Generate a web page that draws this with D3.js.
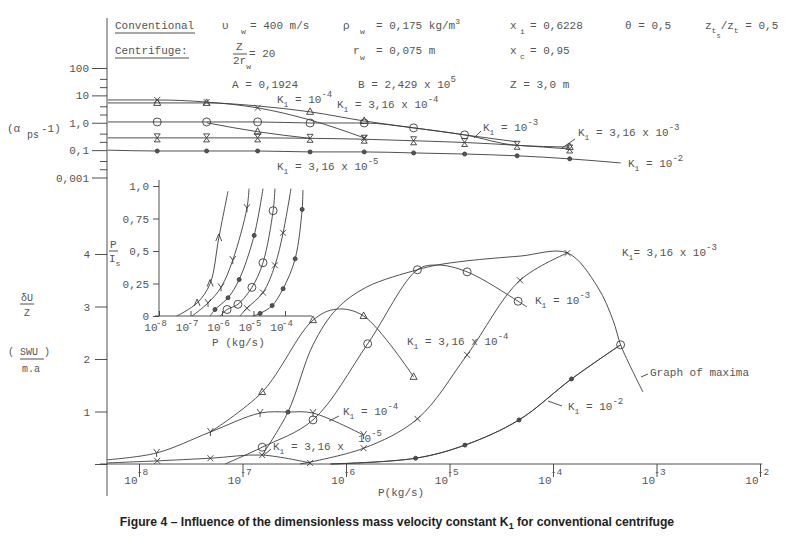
<!DOCTYPE html>
<html>
<head>
<meta charset="utf-8">
<script src="https://cdn.jsdelivr.net/npm/d3@7"></script>
<style>
  body { margin: 0; background: #fff; }
  .tw { font-family: "Liberation Mono", "DejaVu Sans Mono", monospace; font-size: 11px; fill: #555; white-space: pre; }
  .cap { font-family: "Liberation Sans", Arial, sans-serif; font-weight: bold; font-size: 12.2px; fill: #222; white-space: pre; }
</style>
</head>
<body>
<svg id="chart"></svg>
<script>
// ---- data ----
// x values are P in kg/s, pairs are [P, value]

// top panel: (alpha_ps - 1), log axis
var topTicks = [100, 10, 1, 0.1, 0.01];
var topTickLabels = ["100", "10", "1,0", "0,1", "0,001"];
var topMinor = [40, 20, 4, 2, 0.4, 0.2, 0.04, 0.02];

var topK316e5 = [[5e-9, 0.10], [1.5e-8, 0.093], [4.5e-8, 0.093], [1.4e-7, 0.093], [4.5e-7, 0.086], [1.5e-6, 0.086], [4.5e-6, 0.079], [1.4e-5, 0.072], [4.5e-5, 0.062], [1.45e-4, 0.048], [4.5e-4, 0.034]];
var topLow = [[5e-9, 0.28], [1.5e-8, 0.28], [4.5e-8, 0.28], [1.4e-7, 0.28], [4.5e-7, 0.27], [1.5e-6, 0.25], [4.5e-6, 0.22], [1.4e-5, 0.19], [4.5e-5, 0.15], [1.45e-4, 0.11]];
var topK1e3 = [[5e-9, 1.07], [1.5e-8, 1.07], [4.5e-8, 1.07], [1.4e-7, 1.07], [4.5e-7, 0.98], [1.5e-6, 0.98], [4.5e-6, 0.65], [1.4e-5, 0.36], [4.5e-5, 0.20]];
var topDrop = [[4.5e-8, 1.0], [1.4e-7, 0.47], [4.5e-7, 0.27]];
var topK1e4 = [[5e-9, 6.8], [1.5e-8, 6.8], [4.5e-8, 5.7], [1.4e-7, 3.5], [4.5e-7, 1.26], [1.5e-6, 0.28]];
var topK316e4 = [[5e-9, 5.3], [1.5e-8, 5.3], [4.5e-8, 5.3], [1.4e-7, 4.1], [4.5e-7, 2.5], [1.5e-6, 1.16], [4.5e-6, 0.65], [1.4e-5, 0.36], [4.5e-5, 0.15], [1.45e-4, 0.13]];

// main panel: deltaU/Z (SWU/m.a)
var mainYTicks = [0, 1, 2, 3, 4];
var mainYLabels = ["", "1", "2", "3", "4"];
var decades = [1e-8, 1e-7, 1e-6, 1e-5, 1e-4, 1e-3, 1e-2];
var decadeExp = ["-8", "-7", "-6", "-5", "-4", "-3", "-2"];

var mK316e5 = [[4.9e-9, 0.02], [1.5e-8, 0.06], [4.9e-8, 0.11], [1.55e-7, 0.17], [4.5e-7, 0.02]];
var mK1e4 = [[4.9e-9, 0.08], [1.48e-8, 0.21], [4.9e-8, 0.61], [1.48e-7, 0.97], [2.75e-7, 0.99], [4.8e-7, 0.97], [1.48e-6, 0.55]];
var mK316e4 = [[4.9e-8, 0.61], [1.55e-7, 1.37], [4.8e-7, 2.74], [8.1e-7, 2.95], [1.48e-6, 2.82], [4.5e-6, 1.66]];
var mK1e3 = [[6.8e-8, 0], [1.55e-7, 0.32], [4.8e-7, 0.84], [1.62e-6, 2.29], [4.9e-6, 3.70], [7.6e-6, 3.79], [1.48e-5, 3.66], [4.6e-5, 3.10], [5.6e-5, 2.99]];
var mK316e3 = [[3.6e-7, 0], [1.48e-6, 0.30], [4.9e-6, 0.86], [1.48e-5, 2.08], [4.8e-5, 3.50], [1.38e-4, 4.02]];
var mK1e2 = [[7.1e-7, 0], [4.7e-6, 0.11], [1.41e-5, 0.36], [4.7e-5, 0.84], [1.51e-4, 1.62], [4.5e-4, 2.27]];
var mMaxima = [[1.55e-7, 0.17], [2.75e-7, 0.99], [4.8e-7, 2.27], [8.1e-7, 2.95], [1.58e-6, 3.37], [4.9e-6, 3.70], [7.6e-6, 3.79], [1.48e-5, 3.87], [4.8e-5, 3.96], [1.38e-4, 4.02], [2.7e-4, 3.37], [3.8e-4, 2.74], [4.5e-4, 2.27], [5.4e-4, 1.92], [7.4e-4, 1.37]];

// inset: P/Is
var inDecades = [1e-8, 1e-7, 1e-6, 1e-5, 1e-4];
var inDecadeExp = ["-8", "-7", "-6", "-5", "-4"];
var inYTicks = [0, 0.25, 0.5, 0.75, 1];
var inYLabels = ["0", "0,25", "0,5", "0,75", "1,0"];
var in1 = [[3.7e-8, 0], [1.62e-7, 0.10], [4.2e-7, 0.25], [7.9e-7, 0.60], [1.55e-6, 0.96]];
var in2 = [[1.12e-7, 0], [3.6e-7, 0.10], [9.3e-7, 0.22], [2.2e-6, 0.43], [6.2e-6, 0.83], [7.2e-6, 0.98]];
var in3 = [[4.2e-7, 0], [6.0e-7, 0.05], [1.55e-6, 0.14], [3.5e-6, 0.28], [1.05e-5, 0.62], [2.0e-5, 0.98]];
var in4 = [[8.7e-7, 0], [1.45e-6, 0.05], [3.2e-6, 0.09], [8.9e-6, 0.22], [2.0e-5, 0.41], [4.2e-5, 0.81], [4.8e-5, 0.98]];
var in5 = [[3.7e-6, 0], [6.2e-6, 0.06], [2.0e-5, 0.18], [4.8e-5, 0.39], [8.7e-5, 0.64], [1.55e-4, 0.98]];
var in6 = [[9.5e-6, 0], [1.62e-5, 0.02], [3.9e-5, 0.08], [8.7e-5, 0.21], [2.1e-4, 0.44], [3.5e-4, 0.82], [3.7e-4, 0.97]];

// ---- drawing ----
var width = 794, height = 537;
var ink = "#3c3c3c";

var svg = d3.select("#chart")
    .attr("width", width)
    .attr("height", height);

svg.append("rect").attr("width", width).attr("height", height).attr("fill", "#fff");

var x = d3.scaleLog().domain([1e-8, 1e-2]).range([139, 760]);
var yTop = d3.scaleLog().domain([0.01, 100]).range([177.5, 68]);
var y = d3.scaleLinear().domain([0, 4]).range([464, 254]);
var xIn = d3.scaleLog().domain([1e-8, 1e-4]).range([159, 285]);
var yIn = d3.scaleLinear().domain([0, 1]).range([316, 186]);

// text with sub/superscripts: parts = [text, shift, size, absX]
function rich(px, py, parts, cls) {
    var t = svg.append("text").attr("class", cls || "tw").attr("x", px).attr("y", py);
    var cur = 0;
    parts.forEach(function (p) {
        var s = p[1] || 0;
        var ts = t.append("tspan").attr("dy", s - cur).text(p[0]);
        if (p[2]) ts.style("font-size", p[2] + "px");
        if (p[3] != null) ts.attr("x", p[3]);
        cur = s;
    });
    return t;
}
function kLabel(px, py, mid, exp) {
    return rich(px, py, [["K"], ["1", 4, 8], [mid, 0], [exp, -6, 9]]);
}
function seg(x1, y1, x2, y2) {
    svg.append("line").attr("x1", x1).attr("y1", y1).attr("x2", x2).attr("y2", y2)
        .attr("stroke", ink).attr("stroke-width", 0.9);
}
function styleAxis(g) {
    g.select(".domain").remove();
    g.selectAll("line").attr("stroke", ink).attr("stroke-width", 0.9);
    g.selectAll("text").attr("class", "tw").attr("font-family", null).attr("font-size", null);
}

// marker shapes
var shapes = {
    x: "M-3,-3L3,3M-3,3L3,-3",
    y: "M-3,-4L0,0L3,-4M0,0V4",
    tri: "M0,-4L3.5,2.5H-3.5Z",
    hg: "M-3,-4H3L-3,4H3Z",
    lam: "M-3,3L0,-4L3,3"
};

function series(data, sx, sy, marks, shape, curve) {
    var line = d3.line()
        .x(function (d) { return sx(d[0]); })
        .y(function (d) { return sy(d[1]); })
        .curve(curve || d3.curveCatmullRom.alpha(0.5));
    svg.append("path")
        .datum(data)
        .attr("d", line)
        .attr("fill", "none")
        .attr("stroke", ink)
        .attr("stroke-width", 0.9);
    var pts = marks.map(function (i) { return data[i]; });
    if (shape === "dot" || shape === "circle") {
        svg.selectAll(null).data(pts).enter().append("circle")
            .attr("cx", function (d) { return sx(d[0]); })
            .attr("cy", function (d) { return sy(d[1]); })
            .attr("r", shape === "dot" ? 2 : 4)
            .attr("fill", shape === "dot" ? "#555" : "none")
            .attr("stroke", ink)
            .attr("stroke-width", 0.9);
    } else {
        svg.selectAll(null).data(pts).enter().append("path")
            .attr("transform", function (d) { return "translate(" + sx(d[0]) + "," + sy(d[1]) + ")"; })
            .attr("d", shapes[shape])
            .attr("fill", "none")
            .attr("stroke", ink)
            .attr("stroke-width", 0.9);
    }
}

// header
rich(115, 29, [["Conventional"]]);
seg(115, 33, 195, 33);
rich(222, 29, [["υ"], ["w", 5, 8, 241], ["= 400 m/s", 0, null, 250]]);
rich(343, 29, [["ρ"], ["w", 5, 8, 360], ["= 0,175 kg/m", 0, null, 376], ["3", -5, 8]]);
rich(510, 29, [["x"], ["i", 5, 8, 520], ["= 0,6228", 0, null, 530]]);
rich(625, 29, [["θ = 0,5"]]);
rich(705, 29, [["z"], ["t", 4, 8], ["s", 9, 7], ["/z", 0], ["t", 4, 8], [" = 0,5", 0]]);

rich(115, 54, [["Centrifuge:"]]);
seg(115, 58, 189, 58);
rich(236, 50, [["Z"]]);
seg(233, 54, 247, 54);
rich(233, 64, [["2r"], ["w", 5, 8]]);
rich(249, 57, [["= 20"]]);
rich(353, 54, [["r"], ["w", 6, 8, 360], ["= 0,075 m", 0, null, 376]]);
rich(510, 54, [["x"], ["c", 5, 8, 520], ["= 0,95", 0, null, 530]]);

rich(232, 88, [["A = 0,1924"]]);
rich(358, 88, [["B = 2,429 x 10"], ["5", -6, 9]]);
rich(510, 88, [["Z = 3,0 m"]]);

// shared left axis line
seg(107, 18, 107, 496);

// top panel axis
svg.append("g").attr("transform", "translate(107,0)")
    .call(d3.axisLeft(yTop).tickValues(topTicks)
        .tickFormat(function (d, i) { return topTickLabels[i]; })
        .tickSize(15).tickPadding(3))
    .call(styleAxis);
svg.append("g").attr("transform", "translate(107,0)")
    .call(d3.axisLeft(yTop).tickValues(topMinor).tickFormat("").tickSize(7))
    .call(styleAxis);

rich(7, 132, [["(α"], ["ps", 6, 10, 27], ["-1)", 0, null, 41]]);

// top panel curves
var lin = d3.curveMonotoneX;
series(topK316e5, x, yTop, [1, 2, 3, 4, 5, 6, 7, 8, 9], "dot", lin);
series(topLow, x, yTop, [1, 2, 3, 4, 5, 6, 7, 8, 9], "hg", lin);
series(topK1e3, x, yTop, [1, 2, 3, 4, 5, 6, 7], "circle", lin);
series(topDrop, x, yTop, [1], "tri", lin);
series(topK1e4, x, yTop, [1, 2, 3, 5], "x", lin);
series(topK316e4, x, yTop, [1, 2, 4, 5, 9], "tri", lin);

kLabel(277, 103, " = 10", "-4");
kLabel(337, 108, " = 3,16 x 10", "-4");
kLabel(277, 170, " = 3,16 x 10", "-5");
kLabel(483, 131, " = 10", "-3");
seg(481, 131, 474, 138);
kLabel(578, 136, " = 3,16 x 10", "-3");
seg(575, 139, 562, 148);
kLabel(628, 167, " = 10", "-2");

// main panel axes
svg.append("g").attr("transform", "translate(107,0)")
    .call(d3.axisLeft(y).tickValues(mainYTicks)
        .tickFormat(function (d, i) { return mainYLabels[i]; })
        .tickSize(12).tickPadding(5))
    .call(styleAxis);

seg(100, y(0), 762, y(0));
var xg = svg.append("g").attr("transform", "translate(0," + y(0) + ")")
    .call(d3.axisBottom(x).tickValues(decades).tickFormat("").tickSize(13))
    .call(styleAxis);
xg.selectAll(".tick").each(function (d, i) {
    var t = d3.select(this);
    t.append("text").attr("class", "tw").attr("x", -2).attr("y", 20)
        .attr("text-anchor", "end").text("10");
    t.append("text").attr("class", "tw").style("font-size", "9.5px")
        .attr("x", 3).attr("y", 11).text(decadeExp[i]);
});
rich(378, 496, [["P(kg/s)"]]);

rich(21, 301, [["δU"]]).style("font-size", "10px");
seg(20, 304, 34, 304);
rich(24, 316, [["Z"]]).style("font-size", "10px");
rich(8, 355, [["( SWU )"]]).style("font-size", "10px");
seg(20, 359, 44, 359);
rich(22, 372, [["m.a"]]).style("font-size", "10px");

// inset axes
seg(159, 180, 159, 316);
seg(155, 316, 312, 316);
svg.append("g").attr("transform", "translate(159,0)")
    .call(d3.axisLeft(yIn).tickValues(inYTicks)
        .tickFormat(function (d, i) { return inYLabels[i]; })
        .tickSize(6).tickPadding(4))
    .call(styleAxis);
var ixg = svg.append("g").attr("transform", "translate(0,316)")
    .call(d3.axisBottom(xIn).tickValues(inDecades).tickFormat("").tickSizeInner(-5).tickSizeOuter(0))
    .call(styleAxis);
ixg.selectAll(".tick").each(function (d, i) {
    var t = d3.select(this);
    t.append("text").attr("class", "tw").attr("x", -2).attr("y", 15)
        .attr("text-anchor", "end").text("10");
    t.append("text").attr("class", "tw").style("font-size", "9px")
        .attr("x", 2).attr("y", 10).text(inDecadeExp[i]);
});
rich(212, 346, [["P (kg/s)"]]);
rich(110, 248, [["P"]]);
seg(109, 251, 118, 251);
rich(109, 262, [["I"], ["s", 4, 8]]);

// inset curves
series(in1, xIn, yIn, [1, 2, 3], "lam");
series(in2, xIn, yIn, [1, 2, 3, 4], "y");
series(in3, xIn, yIn, [1, 2, 3, 4], "dot");
series(in4, xIn, yIn, [1, 2, 3, 4, 5], "circle");
series(in5, xIn, yIn, [1, 2, 3, 4], "x");
series(in6, xIn, yIn, [1, 2, 3, 4, 5], "dot");

// main curves
series(mK316e5, x, y, [1, 2, 3, 4], "x");
series(mK1e4, x, y, [1, 2, 3, 5, 6], "y");
series(mK316e4, x, y, [1, 2, 4, 5], "tri");
series(mK1e3, x, y, [1, 2, 3, 4, 6, 7], "circle");
series(mK316e3, x, y, [1, 2, 3, 4, 5], "x");
series(mK1e2, x, y, [1, 2, 3, 4], "dot");
series(mK1e2, x, y, [5], "circle");
series(mMaxima, x, y, [1], "dot");

kLabel(407, 345, " = 3,16 x 10", "-4");
kLabel(535, 304, " = 10", "-3");
rich(622, 256, [["K"], ["1", 4, 8], ["= 3,16 x 10"], ["-3", -6, 9]]);
kLabel(343, 415, " = 10", "-4");
seg(339, 416, 329, 421);
rich(273, 450, [["K"], ["1", 4, 8], [" = 3,16 x"]]);
rich(358, 442, [["10"], ["-5", -6, 9]]);
seg(271, 449, 264, 455);
kLabel(568, 410, " = 10", "-2");
seg(548, 401, 562, 406);
rich(650, 376, [["Graph of maxima"]]);
seg(641, 377, 648, 374);

// caption
rich(397, 526, [["Figure 4 – Influence of the dimensionless mass velocity constant K"], ["1", 3, 9], [" for conventional centrifuge", 0]], "cap")
    .attr("text-anchor", "middle");
</script>
</body>
</html>
